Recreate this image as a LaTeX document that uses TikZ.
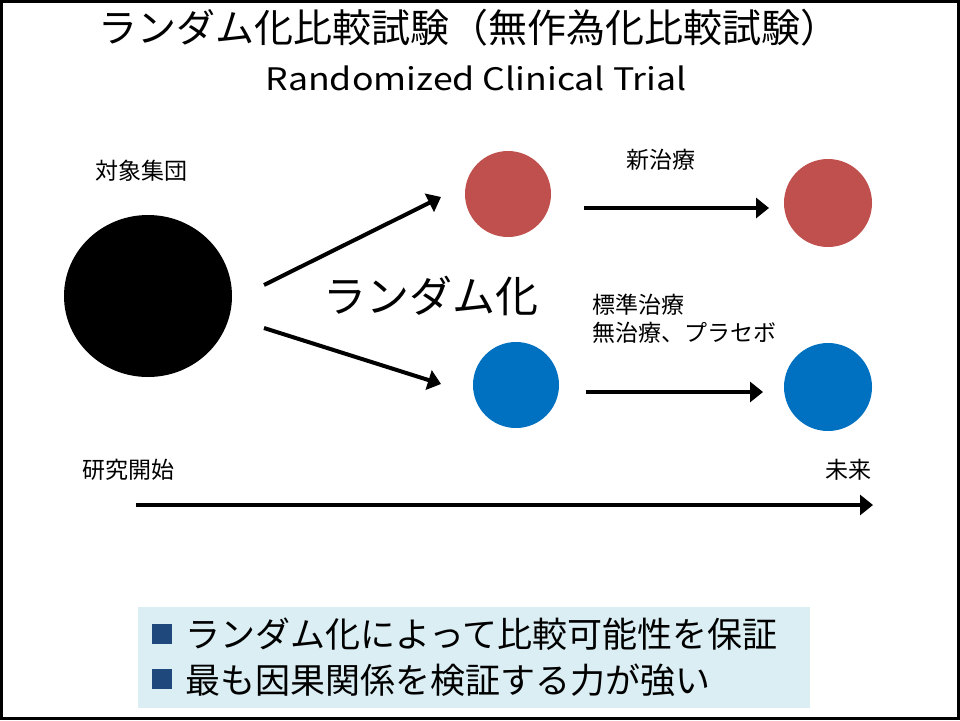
\documentclass[tikz,border=0pt]{standalone}
\usepackage{fontspec}
\setmainfont{Noto Sans CJK JP}
\usetikzlibrary{arrows.meta,shapes.geometric}
\definecolor{redc}{HTML}{C0504D}
\definecolor{bluec}{HTML}{0070C0}
\definecolor{boxbg}{HTML}{DAEEF3}
\definecolor{bulletc}{HTML}{1F497D}
\tikzset{
  dot/.style={circle,inner sep=0pt,draw=none},
  arr/.style={line width=4pt,-{Triangle[length=13pt,width=20pt]}},
  lbl/.style={inner sep=0pt,font=\fontsize{23}{27}\selectfont},
  bul/.style={fill=bulletc,minimum size=20pt,inner sep=0pt},
  btxt/.style={anchor=west,inner sep=0pt,font=\fontsize{35}{40}\selectfont}
}
\begin{document}
\begin{tikzpicture}[x=1pt,y=-1pt]
\useasboundingbox (0,0) rectangle (960,720);
\fill[white] (0,0) rectangle (960,720);
\draw[line width=3pt] (1.5,1.5) rectangle (958.5,718.5);
% title
\node[inner sep=0pt,font=\fontsize{39}{44}\selectfont] (t1) at (469,28) {ランダム化比較試験（無作為化比較試験）};
\node[inner sep=0pt,font=\fontsize{31}{36}\selectfont,xscale=1.15] (t2) at (476,78) {Randomized Clinical Trial};
% circles
\node[fill=black,ellipse,inner sep=0pt,minimum width=168pt,minimum height=162pt] (pop) at (148,296) {};
\node[dot,fill=redc,minimum size=86pt] (r1) at (508,194) {};
\node[dot,fill=redc,minimum size=88pt] (r2) at (828,203) {};
\node[dot,fill=bluec,minimum size=86pt] (b1) at (516,385) {};
\node[dot,fill=bluec,minimum size=88pt] (b2) at (828,387) {};
% labels
\node[lbl] (lpop) at (141,171) {対象集団};
\node[lbl] (lnew) at (661,160) {新治療};
\node[lbl,anchor=west] (lstd1) at (592,305) {標準治療};
\node[lbl,anchor=west] (lstd2) at (592,333) {無治療、プラセボ};
\node[inner sep=0pt,font=\fontsize{43}{48}\selectfont] (lrand) at (431,296) {ランダム化};
\node[lbl] (lstart) at (128,470) {研究開始};
\node[lbl] (lfut) at (848,470) {未来};
% arrow endpoints
\coordinate (a1s) at (264,285); \coordinate (a1e) at (441,197);
\coordinate (a2s) at (264,328); \coordinate (a2e) at (441,384);
\coordinate (a3s) at (584,208); \coordinate (a3e) at (769,208);
\coordinate (a4s) at (586,392); \coordinate (a4e) at (763,392);
\coordinate (a5s) at (136,505); \coordinate (a5e) at (873,505);
\draw[arr] (a1s) -- (a1e);
\draw[arr] (a2s) -- (a2e);
\draw[arr] (a3s) -- (a3e);
\draw[arr] (a4s) -- (a4e);
\draw[arr] (a5s) -- (a5e);
% bottom box
\node[fill=boxbg,draw=none,minimum width=672pt,minimum height=101pt,inner sep=0pt] (box) at (474,657.5) {};
\node[bul] (bu1) at (162,634) {};
\node[bul] (bu2) at (162,679) {};
\node[btxt] (bt1) at (185,634) {ランダム化によって比較可能性を保証};
\node[btxt] (bt2) at (185,680) {最も因果関係を検証する力が強い};
\end{tikzpicture}
\end{document}
